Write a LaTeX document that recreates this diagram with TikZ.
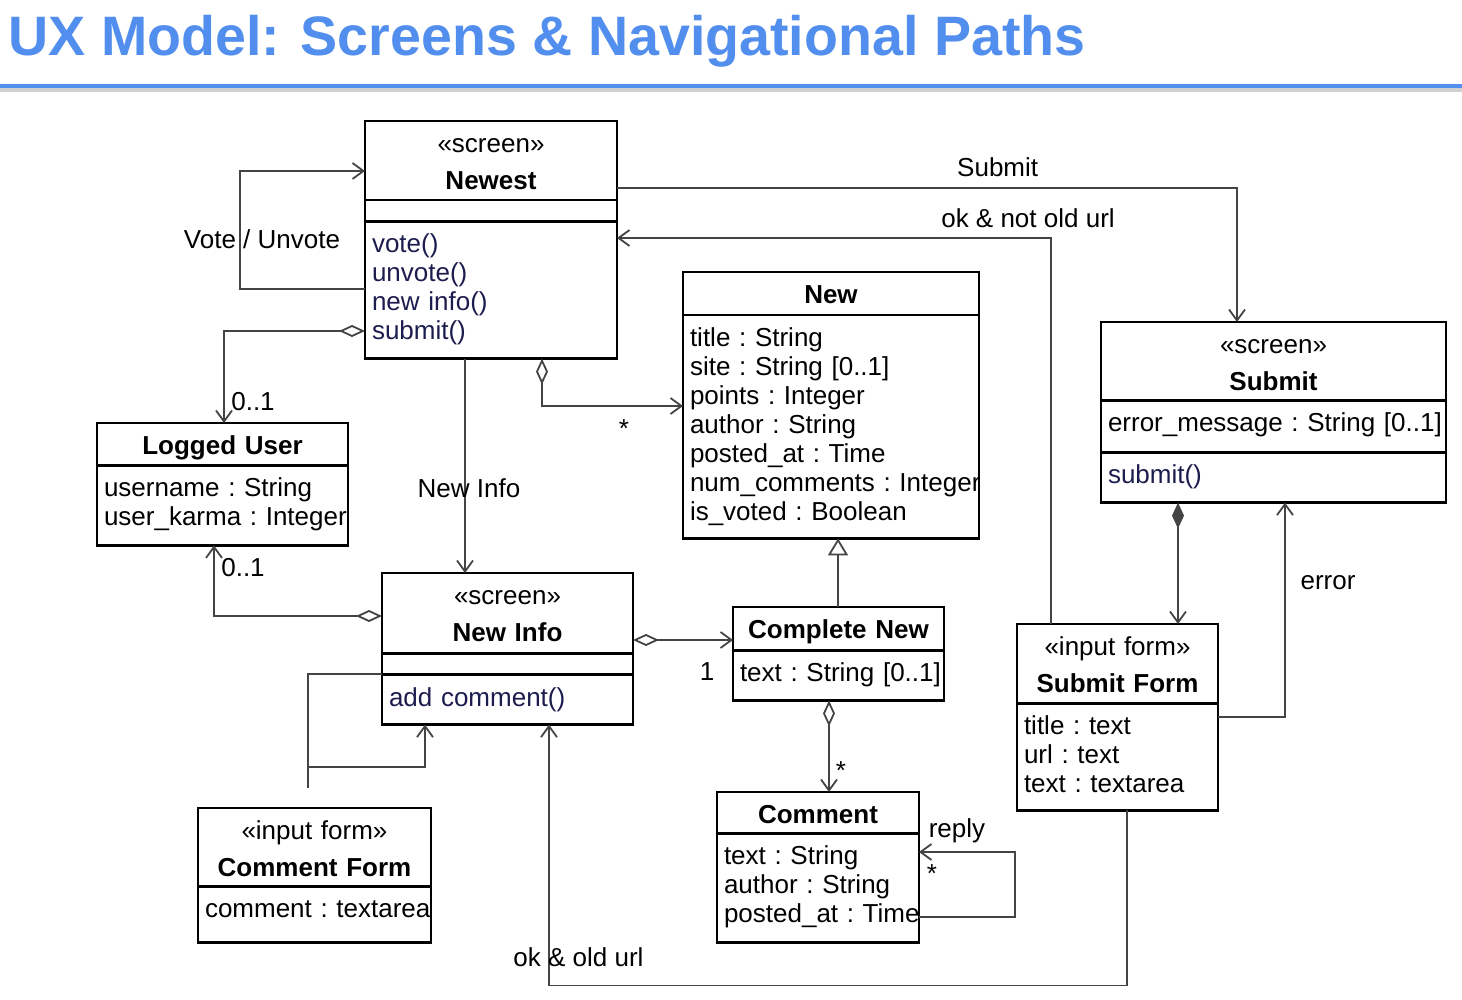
\documentclass[tikz,border=0pt]{standalone}
\usepackage{fontspec}
\setmainfont{Liberation Sans}
\usetikzlibrary{arrows.meta,calc,shapes.multipart}
\definecolor{uxblue}{RGB}{82,142,237}
\definecolor{uxline}{RGB}{68,68,68}
\definecolor{uxop}{RGB}{28,28,78}
\newcommand{\namepart}[2]{\parbox[t][#1][t]{\linewidth}{\centering\vspace*{5.1pt}\strut#2}}
\newcommand{\attrpart}[2]{\parbox[t][#1][t]{\linewidth}{\raggedright\leftskip=3.5pt\rightskip=0pt plus 1fil minus 20pt\vspace*{5pt}\strut#2}}
\newcommand{\blankpart}[1]{\parbox[t][#1]{\linewidth}{}}
\begin{document}
\begin{tikzpicture}[x=0.5pt,y=-0.5pt,font=\fontsize{13}{14.5}\selectfont\frenchspacing,
  umlclass/.style={draw,line width=1.3pt,rectangle split,rectangle split parts=#1,
    inner sep=0pt,outer sep=0pt,anchor=north west},
  conn/.style={draw=uxline,line width=0.9pt},
  assoc/.style={conn,-{Straight Barb[length=5.5pt,width=8pt]}},
  aggr/.style={conn,{Diamond[open,length=13pt,width=6pt]}-{Straight Barb[length=5.5pt,width=8pt]}},
  compo/.style={conn,{Diamond[length=13pt,width=6pt]}-{Straight Barb[length=5.5pt,width=8pt]}},
  gener/.style={conn,-{Triangle[open,length=8.5pt,width=10pt]}},
  lbl/.style={inner sep=0pt}]
  \useasboundingbox (0,0) rectangle (1462,1000);
  \node[anchor=base west,inner sep=0pt,text=uxblue,font=\fontsize{27.8}{30}\selectfont\bfseries] (title) at (8,56) {UX Model: Screens \& Navigational Paths};
  \fill[black!18] (0,88) rectangle (1462,92);
  \fill[uxblue] (0,84) rectangle (1462,88);

  \node[umlclass=3,text width=126pt] (newest) at (365,121) {\namepart{38.3pt}{«screen»\\[3.8pt]\textbf{Newest}}%
    \nodepart{two}\blankpart{9.3pt}%
    \nodepart{three}\attrpart{67.3pt}{\color{uxop}vote()\\unvote()\\new info()\\submit()}};
  \node[umlclass=2,text width=148pt] (new) at (683,272) {\namepart{20.3pt}{\textbf{New}}%
    \nodepart{two}\attrpart{110.3pt}{title : String\\site : String [0..1]\\points : Integer\\author : String\\posted\_at : Time\\num\_comments : Integer\\is\_voted : Boolean}};
  \node[umlclass=2,text width=125.5pt] (loggeduser) at (97,423) {\namepart{19.8pt}{\textbf{Logged User}}%
    \nodepart{two}\attrpart{38.8pt}{username : String\\user\_karma : Integer}};
  \node[umlclass=3,text width=172.5pt] (submit) at (1101,322) {\namepart{37.8pt}{«screen»\\[3.8pt]\textbf{Submit}}%
    \nodepart{two}\attrpart{24.8pt}{error\_message : String [0..1]}%
    \nodepart{three}\attrpart{23.8pt}{\color{uxop}submit()}};
  \node[umlclass=3,text width=125.5pt] (newinfo) at (382,573) {\namepart{38.8pt}{«screen»\\[3.8pt]\textbf{New Info}}%
    \nodepart{two}\blankpart{9.3pt}%
    \nodepart{three}\attrpart{23.8pt}{\color{uxop}add comment()}};
  \node[umlclass=2,text width=105.5pt] (completenew) at (733,607) {\namepart{20.3pt}{\textbf{Complete New}}%
    \nodepart{two}\attrpart{23.8pt}{text : String [0..1]}};
  \node[umlclass=2,text width=101pt] (comment) at (717,792) {\namepart{19.3pt}{\textbf{Comment}}%
    \nodepart{two}\attrpart{53.3pt}{text : String\\author : String\\posted\_at : Time}};
  \node[umlclass=2,text width=100.5pt] (submitform) at (1017,624) {\namepart{38.3pt}{«input form»\\[3.8pt]\textbf{Submit Form}}%
    \nodepart{two}\attrpart{52.3pt}{title : text\\url : text\\text : textarea}};
  \node[umlclass=2,text width=116.5pt] (commentform) at (198,808) {\namepart{37.8pt}{«input form»\\[3.8pt]\textbf{Comment Form}}%
    \nodepart{two}\attrpart{26.8pt}{comment : textarea}};

  \draw[assoc] ($(newest.north west)+(0,168)$) -- ++(-125,0) |- node[lbl,pos=0.25,shift={(22,9)}] {Vote / Unvote} ($(newest.north west)+(0,50)$);
  \draw[aggr] ($(newest.north west)+(0,210)$) -| node[lbl,pos=1,shift={(29,-21)}] {0..1} ($(loggeduser.north west)+(127,0)$);
  \draw[assoc] ($(newest.north east)+(0,67)$) -| node[lbl,pos=0.307,shift={(0,-21)}] {Submit} ($(submit.north west)+(136,0)$);
  \draw[assoc] ($(submitform.north west)+(34,0)$) |- node[lbl,pos=0.5,shift={(-23,-20)}] {ok \& not old url} ($(newest.north east)+(0,117)$);
  \draw[aggr] ($(newest.south west)+(177,0)$) |- node[lbl,pos=1,shift={(-59,23)}] {*} ($(new.north west)+(0,134)$);
  \draw[assoc] ($(newest.south west)+(100,0)$) -- node[lbl,pos=0.605,shift={(4,0)}] {New Info} ($(newinfo.north west)+(83,0)$);
  \draw[aggr] ($(newinfo.north west)+(0,43)$) -| node[lbl,pos=1,shift={(29,22)}] {0..1} ($(loggeduser.south west)+(117,0)$);
  \draw[aggr] ($(newinfo.north east)+(0,67)$) -- node[lbl,pos=1,shift={(-26,32)}] {1} ($(completenew.north west)+(0,33)$);
  \draw[gener] ($(completenew.north west)+(105,0)$) -- ($(new.south west)+(155,0)$);
  \draw[aggr] ($(completenew.south west)+(96,0)$) -- node[lbl,pos=1,shift={(12,-21)}] {*} ($(comment.north west)+(112,0)$);
  \draw[assoc] ($(comment.north east)+(0,125)$) -- ++(96,0) |- node[lbl,pos=1,shift={(38,-21)}] {reply}
    node[lbl,pos=1,shift={(13,22)}] {*} ($(comment.north east)+(0,60)$);
  \draw[conn] ($(newinfo.north west)+(0,101)$) -| ($(commentform.north west)+(110,-20)$);
  \draw[assoc] ($(commentform.north west)+(110,-41)$) -| ($(newinfo.south west)+(43,0)$);
  \draw[assoc] ($(submitform.south west)+(110,0)$) -- ++(0,175) -| node[lbl,pos=1,shift={(29.5,233)}] {ok \& old url} ($(newinfo.south west)+(167,0)$);
  \draw[compo] ($(submit.south west)+(77,0)$) -- ($(submitform.north west)+(161,0)$);
  \draw[assoc] ($(submitform.north east)+(0,93)$) -| node[lbl,pos=1,shift={(43,80)}] {error} ($(submit.south west)+(184,0)$);
\end{tikzpicture}
\end{document}
